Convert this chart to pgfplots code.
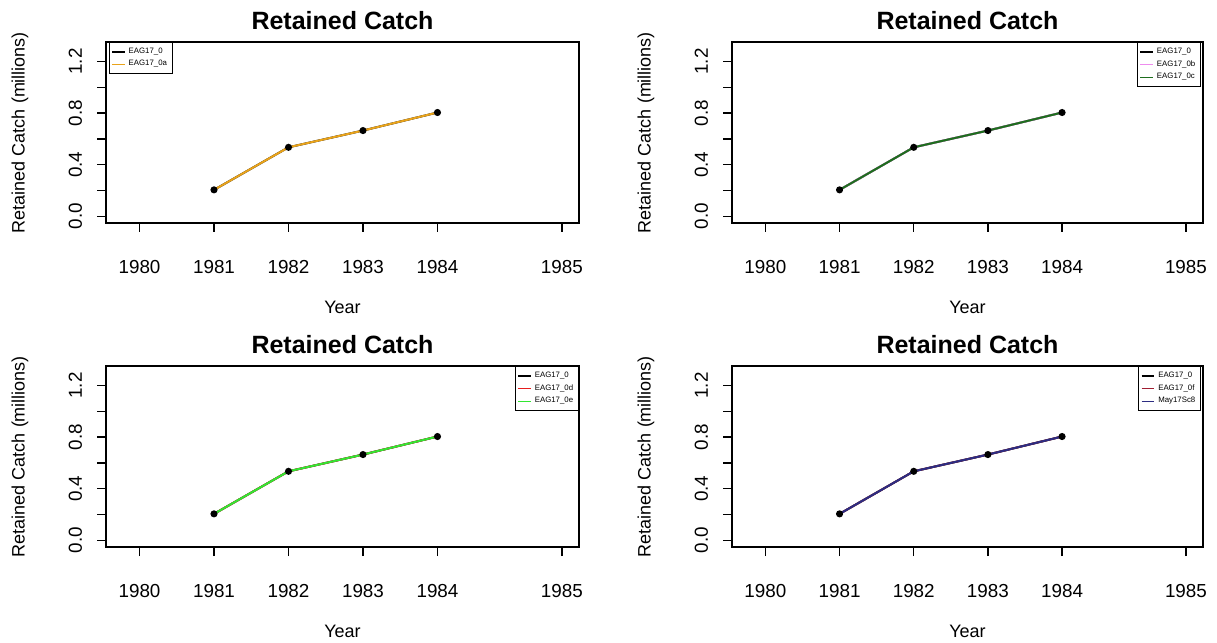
\documentclass[border=0pt]{standalone}
\usepackage{fontspec}
\setmainfont{Liberation Sans}
\usepackage{pgfplots}
\pgfplotsset{compat=1.18}
\usepackage{pgfplotstable}
\usetikzlibrary{calc}

\definecolor{orangeR}{RGB}{233,163,26}
\definecolor{violetR}{RGB}{238,140,238}
\definecolor{dgreenR}{RGB}{30,110,30}
\definecolor{redR}{RGB}{230,30,30}
\definecolor{greenR}{RGB}{50,230,50}
\definecolor{maroonR}{RGB}{160,30,50}
\definecolor{navyR}{RGB}{45,45,130}

% retained catch (millions)
\pgfplotstableread{
year catch
1981 0.205
1982 0.535
1983 0.665
1984 0.805
}\retained

\pgfplotsset{
  rc/.style={
    scale only axis,
    height=108.6pt,
    xmin=1979.55, xmax=1985.9,
    ymin=-0.052, ymax=1.352,
    axis line style={line width=0.8pt},
    tick style={line width=0.8pt, black},
    major tick length=5.4pt,
    tick align=outside,
    xtick pos=bottom, ytick pos=left,
    xtick={1980,1981,1982,1983,1984,1985.67},
    xticklabels={1980,1981,1982,1983,1984,1985},
    ytick={0,0.2,0.4,0.6,0.8,1.0,1.2},
    yticklabels={0.0,,0.4,,0.8,,1.2},
    /pgf/number format/assume math mode=true,
    tick label style={font=\fontsize{11.3}{12.5}\selectfont},
    x tick label style={anchor=center, yshift=-21pt},
    y tick label style={anchor=center, xshift=-13pt, rotate=90},
    title={\textbf{Retained Catch}},
    title style={font=\fontsize{15}{17}\selectfont, anchor=center,
      at={($(rel axis cs:0.5,1)+(0,7pt)$)}},
    xlabel={Year},
    ylabel={Retained Catch (millions)},
    label style={font=\fontsize{10.8}{12}\selectfont},
    x label style={anchor=center, at={($(rel axis cs:0.5,0)+(0,-50.4pt)$)}},
    y label style={anchor=center, rotate=0, at={($(rel axis cs:0,0.5)+(-51.6pt,0)$)}},
    legend style={font=\fontsize{4.7}{5.2}\selectfont, draw=black, line width=0.6pt,
      inner sep=1.2pt, row sep=-1.2pt, cells={anchor=west}},
    legend image code/.code={\draw[#1, line width=0.9pt] (0pt,0pt) -- (7.5pt,0pt);},
    every axis plot/.append style={line width=1.2pt},
  },
  dots/.style={only marks, mark=*, mark size=1.5pt, black, forget plot},
}

\begin{document}
\begin{tikzpicture}
\useasboundingbox (0,0) rectangle (730.2pt,385.2pt);

% top left
\begin{axis}[rc, width=283.8pt, at={(63.6pt,251.4pt)}, anchor=south west,
  legend style={at={(rel axis cs:0.006,1)}, anchor=north west}]
  \addplot[black] table {\retained};
  \addlegendentry{EAG17\_0}
  \addplot[orangeR] table {\retained};
  \addlegendentry{EAG17\_0a}
  \addplot[dots] table {\retained};
\end{axis}

% top right
\begin{axis}[rc, width=282.6pt, at={(439.2pt,251.4pt)}, anchor=south west,
  legend style={at={(rel axis cs:0.996,1)}, anchor=north east}]
  \addplot[black] table {\retained};
  \addlegendentry{EAG17\_0}
  \addplot[violetR] table {\retained};
  \addlegendentry{EAG17\_0b}
  \addplot[dgreenR] table {\retained};
  \addlegendentry{EAG17\_0c}
  \addplot[dots] table {\retained};
\end{axis}

% bottom left
\begin{axis}[rc, width=283.8pt, at={(63.6pt,57pt)}, anchor=south west,
  legend style={at={(rel axis cs:1,1)}, anchor=north east}]
  \addplot[black] table {\retained};
  \addlegendentry{EAG17\_0}
  \addplot[redR] table {\retained};
  \addlegendentry{EAG17\_0d}
  \addplot[greenR] table {\retained};
  \addlegendentry{EAG17\_0e}
  \addplot[dots] table {\retained};
\end{axis}

% bottom right
\begin{axis}[rc, width=282.6pt, at={(439.2pt,57pt)}, anchor=south west,
  legend style={at={(rel axis cs:0.996,1)}, anchor=north east}]
  \addplot[black] table {\retained};
  \addlegendentry{EAG17\_0}
  \addplot[maroonR] table {\retained};
  \addlegendentry{EAG17\_0f}
  \addplot[navyR] table {\retained};
  \addlegendentry{May17Sc8}
  \addplot[dots] table {\retained};
\end{axis}
\end{tikzpicture}
\end{document}
